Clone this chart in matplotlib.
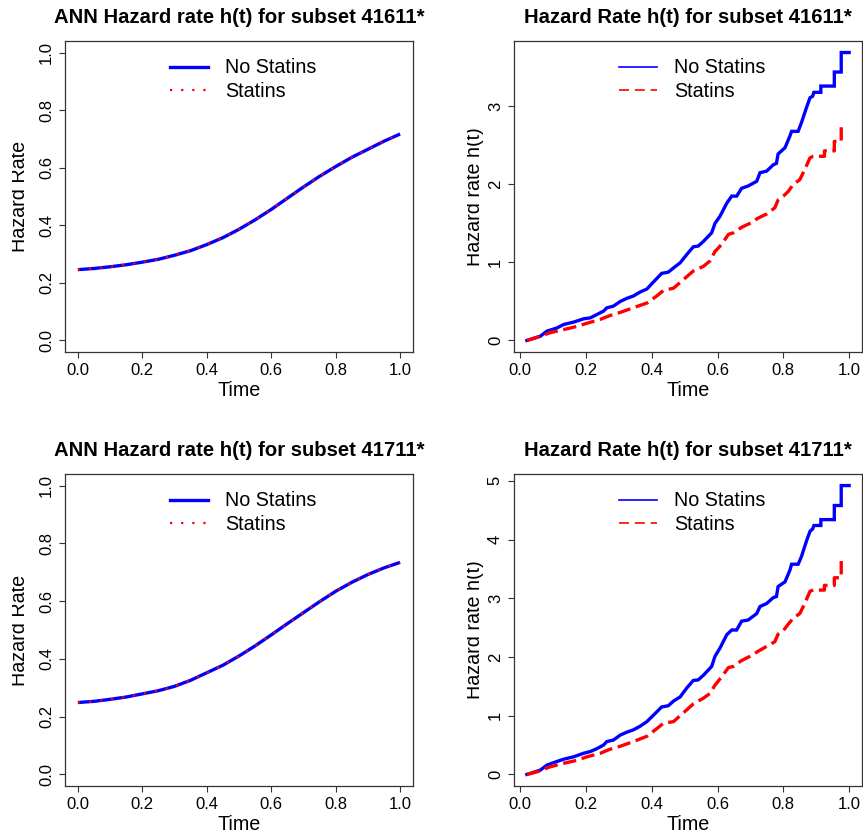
import matplotlib
matplotlib.use("Agg")
import matplotlib.pyplot as plt
from matplotlib.lines import Line2D
from matplotlib.transforms import Bbox

plt.rcParams['font.family'] = ['Liberation Sans', 'DejaVu Sans']

# ---------------- data ----------------
ann_time = [0.00, 0.05, 0.10, 0.15, 0.20, 0.25, 0.30, 0.35, 0.40, 0.45, 0.50,
            0.55, 0.60, 0.65, 0.70, 0.75, 0.80, 0.85, 0.90, 0.95, 1.00]
ann_41611_nostatin = [0.246, 0.250, 0.256, 0.263, 0.272, 0.282, 0.296, 0.312, 0.333, 0.357, 0.386,
                      0.419, 0.455, 0.494, 0.533, 0.570, 0.604, 0.636, 0.664, 0.692, 0.717]
ann_41611_statin = [0.246, 0.250, 0.256, 0.263, 0.272, 0.282, 0.296, 0.312, 0.333, 0.357, 0.386,
                    0.419, 0.455, 0.494, 0.533, 0.570, 0.604, 0.636, 0.664, 0.692, 0.717]
ann_41711_nostatin = [0.249, 0.253, 0.260, 0.268, 0.279, 0.290, 0.305, 0.326, 0.352, 0.378, 0.410,
                      0.445, 0.483, 0.522, 0.560, 0.598, 0.634, 0.665, 0.692, 0.715, 0.734]
ann_41711_statin = [0.249, 0.253, 0.260, 0.268, 0.279, 0.290, 0.305, 0.326, 0.352, 0.378, 0.410,
                    0.445, 0.483, 0.522, 0.560, 0.598, 0.634, 0.665, 0.692, 0.715, 0.734]

na_time_nostatin = [0.020, 0.061, 0.081, 0.111, 0.132, 0.162, 0.192, 0.213, 0.233, 0.253,
                    0.263, 0.283, 0.304, 0.324, 0.344, 0.364, 0.385, 0.405, 0.430, 0.450,
                    0.466, 0.486, 0.506, 0.526, 0.541, 0.557, 0.582, 0.592, 0.607, 0.628,
                    0.643, 0.658, 0.673, 0.693, 0.719, 0.729, 0.749, 0.769, 0.779, 0.784,
                    0.805, 0.820, 0.825, 0.845, 0.855, 0.870, 0.881, 0.889, 0.893, 0.914,
                    0.914, 0.955, 0.955, 0.976, 0.976, 1.000]
na_41611_nostatin = [0.00, 0.055, 0.12, 0.16, 0.205, 0.235, 0.277, 0.29, 0.333, 0.376,
                     0.418, 0.44, 0.50, 0.54, 0.57, 0.62, 0.66, 0.75, 0.86, 0.875,
                     0.93, 0.995, 1.10, 1.20, 1.21, 1.27, 1.38, 1.50, 1.59, 1.76,
                     1.85, 1.85, 1.95, 1.98, 2.04, 2.15, 2.17, 2.25, 2.27, 2.39,
                     2.47, 2.62, 2.68, 2.68, 2.79, 2.98, 3.11, 3.13, 3.18, 3.18,
                     3.26, 3.26, 3.44, 3.44, 3.69, 3.69]
na_41711_nostatin = [0.00, 0.074, 0.16, 0.22, 0.26, 0.30, 0.36, 0.39, 0.44, 0.50,
                     0.56, 0.585, 0.67, 0.72, 0.76, 0.82, 0.90, 1.01, 1.15, 1.17,
                     1.25, 1.32, 1.47, 1.60, 1.61, 1.69, 1.84, 2.01, 2.15, 2.38,
                     2.46, 2.46, 2.61, 2.63, 2.74, 2.86, 2.91, 3.01, 3.03, 3.20,
                     3.28, 3.48, 3.58, 3.58, 3.71, 3.97, 4.14, 4.18, 4.24, 4.24,
                     4.34, 4.34, 4.58, 4.58, 4.92, 4.92]

na_time_statin = [0.020, 0.051, 0.091, 0.132, 0.172, 0.202, 0.243, 0.273, 0.304, 0.344,
                  0.385, 0.415, 0.435, 0.466, 0.496, 0.526, 0.557, 0.577, 0.592, 0.612,
                  0.633, 0.648, 0.673, 0.698, 0.724, 0.749, 0.774, 0.784, 0.800, 0.815,
                  0.830, 0.850, 0.865, 0.881, 0.891, 0.925, 0.925, 0.955, 0.955, 0.976,
                  0.976]
na_41611_statin = [0.00, 0.04, 0.10, 0.14, 0.18, 0.22, 0.27, 0.32, 0.36, 0.42,
                   0.48, 0.57, 0.64, 0.67, 0.78, 0.89, 0.95, 1.02, 1.14, 1.23,
                   1.36, 1.38, 1.45, 1.50, 1.57, 1.62, 1.70, 1.80, 1.85, 1.91,
                   2.00, 2.06, 2.19, 2.34, 2.36, 2.36, 2.43, 2.43, 2.55, 2.55,
                   2.76]
na_41711_statin = [0.00, 0.045, 0.13, 0.19, 0.24, 0.30, 0.36, 0.43, 0.48, 0.56,
                   0.65, 0.78, 0.87, 0.90, 1.05, 1.20, 1.30, 1.38, 1.52, 1.66,
                   1.82, 1.84, 1.94, 2.01, 2.10, 2.18, 2.26, 2.39, 2.45, 2.56,
                   2.66, 2.74, 2.91, 3.12, 3.14, 3.14, 3.22, 3.22, 3.35, 3.35,
                   3.66]

titles = ["ANN Hazard rate h(t) for subset 41611*", "Hazard Rate h(t) for subset 41611*",
          "ANN Hazard rate h(t) for subset 41711*", "Hazard Rate h(t) for subset 41711*"]
legend_labels = ["No Statins", "Statins"]
ann_yticks = [0.0, 0.2, 0.4, 0.6, 0.8, 1.0]
xticks = [0.0, 0.2, 0.4, 0.6, 0.8, 1.0]
na_yticks_41611 = [0, 1, 2, 3]
na_yticks_41711 = [0, 1, 2, 3, 4, 5]

# ---------------- figure ----------------
W, H = 863, 838
fig = plt.figure(figsize=(W / 100, H / 100), dpi=100)

def px_axes(x0, y0, x1, y1):
    return fig.add_axes([x0 / W, 1 - y1 / H, (x1 - x0) / W, (y1 - y0) / H])

ax_tl = px_axes(65, 41, 413, 352)
ax_tr = px_axes(514, 41, 862, 352)
ax_bl = px_axes(65, 474, 413, 786)
ax_br = px_axes(514, 474, 862, 786)

BLUE = "#0000ff"
RED = "#ff0000"
TICK_FS = 12
LAB_FS = 14.2
TITLE_FS = 14.6

def style(ax, title, ylabel, yticks, yfmt, label_x_px, clip_x_px):
    for s in ax.spines.values():
        s.set_color("#333333")
        s.set_linewidth(0.9)
    ax.set_xticks(xticks)
    ax.set_xticklabels([f"{v:.1f}" for v in xticks], fontsize=TICK_FS)
    ax.set_yticks(yticks)
    ax.set_yticklabels([yfmt(v) for v in yticks], fontsize=TICK_FS, rotation=90, va="center")
    ax.tick_params(direction="out", length=4.5, width=0.8, color="#333333")
    ax.tick_params(axis="x", pad=3.5)
    ax.tick_params(axis="y", pad=3.5)
    ax.set_xlabel("Time", fontsize=LAB_FS, labelpad=2)
    lab = ax.set_ylabel(ylabel, fontsize=LAB_FS)
    bb = ax.get_position()
    ax_left_px = bb.x0 * W
    ax.yaxis.set_label_coords((label_x_px - ax_left_px) / (bb.width * W), 0.5)
    # the reference shows the y label cut off just above its x-height
    lab.set_clip_on(True)
    lab.set_clip_box(Bbox.from_extents(clip_x_px, 0, W, H))
    ax.set_title(title, fontsize=TITLE_FS, fontweight="bold", pad=13)

def add_legend(ax, handles):
    ax.legend(handles, legend_labels, loc="upper left", bbox_to_anchor=(0.302, 0.944),
              frameon=False, fontsize=LAB_FS, handlelength=1.9, handletextpad=0.9,
              borderpad=0, borderaxespad=0, labelspacing=0.25)

def ann_panel(ax, title, nostat, stat):
    ax.plot(ann_time, nostat, color=BLUE, lw=2.4, solid_capstyle="butt")
    ax.plot(ann_time, stat, color=RED, lw=1.6, linestyle=(0, (1, 4)))
    ax.set_xlim(-0.04, 1.04)
    ax.set_ylim(-0.04, 1.04)
    style(ax, title, "Hazard Rate", ann_yticks, lambda v: f"{v:.1f}", 29, 12)
    add_legend(ax, [Line2D([], [], color=BLUE, lw=2.4),
                    Line2D([], [], color=RED, lw=1.6, linestyle=(0, (1, 4)))])

def na_panel(ax, title, nostat, stat, yticks):
    ax.plot(na_time_nostatin, nostat, color=BLUE, lw=2.4, solid_joinstyle="miter")
    ax.plot(na_time_statin, stat, color=RED, lw=2.4, linestyle=(0, (4, 1.7)))
    xmin, xmax = min(na_time_nostatin), max(na_time_nostatin)
    ymax = max(max(nostat), max(stat))
    xr = xmax - xmin
    ax.set_xlim(xmin - 0.04 * xr, xmax + 0.04 * xr)
    ax.set_ylim(-0.04 * ymax, ymax * 1.04)
    style(ax, title, "Hazard rate h(t)", yticks, lambda v: f"{v:d}", 484, 467)
    add_legend(ax, [Line2D([], [], color=BLUE, lw=1.2),
                    Line2D([], [], color=RED, lw=1.2, linestyle=(0, (6, 3.5)))])

ann_panel(ax_tl, titles[0], ann_41611_nostatin, ann_41611_statin)
na_panel(ax_tr, titles[1], na_41611_nostatin, na_41611_statin, na_yticks_41611)
ann_panel(ax_bl, titles[2], ann_41711_nostatin, ann_41711_statin)
na_panel(ax_br, titles[3], na_41711_nostatin, na_41711_statin, na_yticks_41711)

fig.savefig("out.png", dpi=100, facecolor="white")
